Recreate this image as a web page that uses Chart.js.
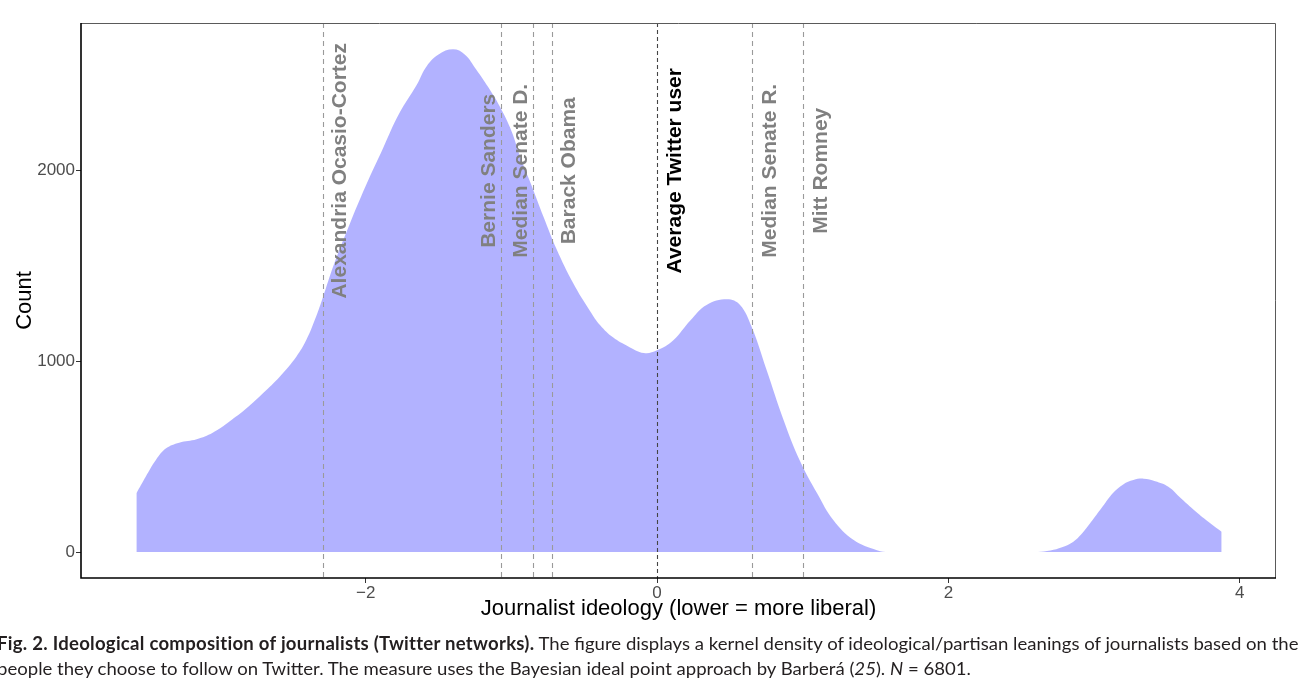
<!DOCTYPE html>
<html><head><meta charset="utf-8">
<script src="https://cdn.jsdelivr.net/npm/chart.js@4.4.1/dist/chart.umd.min.js"></script>
<style>
html,body{margin:0;padding:0;background:#fff;}
#wrap{position:relative;width:1310px;height:685px;overflow:hidden;background:#fff;}
#c{position:absolute;left:0;top:0;}
.cap{position:absolute;left:-3px;white-space:nowrap;font-family:Lato,"Noto Sans",sans-serif;font-size:18px;color:#231f20;transform-origin:0 50%;line-height:22px;}
.cap b{letter-spacing:0.25px;}
</style></head><body>
<div id="wrap">
<canvas id="c" width="1310" height="685"></canvas>
<div class="cap" id="cap1" style="top:632px"><b>Fig. 2. Ideological composition of journalists (Twitter networks).</b> The figure displays a kernel density of ideological/partisan leanings of journalists based on the</div>
<div class="cap" id="cap2" style="top:657px">people they choose to follow on Twitter. The measure uses the Bayesian ideal point approach by Barberá (<i>25</i>). <i>N</i> = 6801.</div>
</div>
<script>
// ---- data ----
const ideology = [-3.574,-3.51,-3.44,-3.37,-3.28,-3.16,-3.05,-2.935,-2.82,-2.705,-2.59,-2.476,-2.407,-2.34,-2.294,-2.22,-2.11,-2.00,-1.88,-1.77,-1.65,-1.58,-1.50,-1.40,-1.32,-1.24,-1.16,-1.08,-1.00,-0.94,-0.86,-0.78,-0.69,-0.575,-0.46,-0.39,-0.30,-0.20,-0.09,0.00,0.11,0.23,0.34,0.48,0.57,0.65,0.75,0.87,0.98,1.10,1.21,1.35,1.51,1.60,1.70,2.00,2.30,2.60,2.70,2.78,2.85,2.92,2.99,3.06,3.13,3.20,3.27,3.34,3.42,3.51,3.60,3.71,3.80,3.876];
const counts = [308,395,483,544,574,592,626,685,753,833,920,1025,1113,1235,1335,1505,1720,1920,2120,2300,2450,2550,2610,2637,2610,2530,2440,2338,2210,2075,1920,1760,1590,1410,1265,1190,1125,1080,1044,1058,1110,1216,1296,1326,1296,1180,960,690,480,307,168,63,10,0,0,0,0,0,8,25,50,100,168,240,310,355,378,385,372,343,280,205,150,107];
const markerNames = ["Alexandria Ocasio-Cortez","Bernie Sanders","Median Senate D.","Barack Obama","Average Twitter user","Median Senate R.","Mitt Romney"];
const markerPositions = [-2.296,-1.072,-0.848,-0.722,0,0.653,1.003];
const labelLevel = 2000;
const xTicks = [-2,0,2,4];
const yTicks = [0,1000,2000];

const FONT = '"Liberation Sans", Arial, Helvetica, sans-serif';
const fmt = v => v < 0 ? '\u2212' + Math.abs(v) : String(v);

// keep the smoothed area from dipping below the zero baseline
const clipZero = {
  id: 'clipZero',
  beforeDatasetsDraw(chart) {
    const {ctx, chartArea: a, scales: {y}} = chart;
    ctx.save();
    ctx.beginPath();
    ctx.rect(a.left, a.top, a.width, y.getPixelForValue(0) - a.top);
    ctx.clip();
  },
  afterDatasetsDraw(chart) {
    chart.ctx.restore();
  }
};

const overlay = {
  id: 'overlay',
  afterDatasetsDraw(chart, args, opts) {
    const {ctx, chartArea: a, scales: {x, y}} = chart;
    ctx.save();
    markerPositions.forEach((v, i) => {
      const px = Math.round(x.getPixelForValue(v)) + 0.5;
      ctx.beginPath();
      ctx.setLineDash(opts.dash[i]);
      ctx.strokeStyle = opts.lineColors[i];
      ctx.lineWidth = 1.1;
      ctx.moveTo(px, a.top);
      ctx.lineTo(px, a.bottom);
      ctx.stroke();
    });
    ctx.setLineDash([]);
    ctx.font = 'bold 21px ' + FONT;
    ctx.textAlign = 'center';
    ctx.textBaseline = 'alphabetic';
    markerNames.forEach((n, i) => {
      const px = x.getPixelForValue(markerPositions[i]) + opts.offsets[i];
      const py = y.getPixelForValue(labelLevel);
      ctx.save();
      ctx.translate(px, py);
      ctx.rotate(-Math.PI / 2);
      ctx.fillStyle = opts.textColors[i];
      ctx.fillText(n, 0, 0);
      ctx.restore();
    });
    // panel frame
    ctx.strokeStyle = '#5a5a5a';
    ctx.lineWidth = 1;
    ctx.beginPath();
    ctx.moveTo(a.left, a.top + 0.5); ctx.lineTo(a.right - 0.5, a.top + 0.5); ctx.lineTo(a.right - 0.5, a.bottom);
    ctx.stroke();
    ctx.strokeStyle = '#000';
    ctx.lineWidth = 1.6;
    ctx.beginPath();
    ctx.moveTo(a.left, a.top); ctx.lineTo(a.left, a.bottom); ctx.lineTo(a.right, a.bottom);
    ctx.stroke();
    ctx.restore();
  }
};

new Chart(document.getElementById('c'), {
  type: 'line',
  data: {
    datasets: [{
      data: ideology.map((v, i) => ({x: v, y: counts[i]})),
      fill: 'origin',
      backgroundColor: 'rgba(0,0,255,0.3)',
      borderWidth: 0,
      borderColor: 'rgba(0,0,0,0)',
      pointRadius: 0,
      tension: 0.4
    }]
  },
  options: {
    responsive: false,
    devicePixelRatio: 1,
    animation: false,
    events: [],
    layout: {padding: {top: 23, right: 34, bottom: 0, left: 0}},
    plugins: {
      legend: {display: false},
      tooltip: {enabled: false},
      overlay: {
        dash: [[5,4],[5,4],[5,4],[5,4],[4,3],[5,4],[5,4]],
        lineColors: ['#9a9a9a','#9a9a9a','#9a9a9a','#9a9a9a','#444444','#9a9a9a','#9a9a9a'],
        textColors: ['#808080','#808080','#808080','#808080','#000000','#808080','#808080'],
        offsets: [23.5,-6,-6,23.5,23.5,23.5,23.5]
      }
    },
    scales: {
      x: {
        type: 'linear',
        min: -3.954, max: 4.249,
        afterBuildTicks: s => { s.ticks = xTicks.map(v => ({value: v})); },
        afterFit: s => { s.height = 107; },
        grid: {display: true, drawOnChartArea: false, drawTicks: true, tickLength: 5, color: '#333'},
        border: {display: false},
        ticks: {padding: 0, color: '#4d4d4d', font: {size: 17, family: FONT}, callback: v => fmt(v), maxRotation: 0, autoSkip: false},
        title: {display: true, text: 'Journalist ideology (lower = more liberal)', color: '#000', font: {size: 22, family: FONT}, padding: {top: 0, bottom: 62.8}}
      },
      y: {
        type: 'linear',
        min: -136, max: 2775,
        afterBuildTicks: s => { s.ticks = yTicks.map(v => ({value: v})); },
        afterFit: s => { s.width = 81; },
        grid: {display: true, drawOnChartArea: false, drawTicks: true, tickLength: 5, color: '#333'},
        border: {display: false},
        ticks: {padding: 1, color: '#4d4d4d', font: {size: 17, family: FONT}, callback: v => String(v), autoSkip: false},
        title: {display: true, text: 'Count', color: '#000', font: {size: 22, family: FONT}, padding: {top: 11.8, bottom: 0}}
      }
    }
  },
  plugins: [clipZero, overlay]
});

// fit caption width to the reference line length
function fitCaption() {
  const c1 = document.getElementById('cap1'), c2 = document.getElementById('cap2');
  c1.style.transform = ''; c2.style.transform = '';
  const w = c1.scrollWidth;
  const s = 1302 / w;
  c1.style.transform = 'scaleX(' + s + ')';
  c2.style.transform = 'scaleX(' + s + ')';
}
fitCaption();
if (document.fonts && document.fonts.ready) document.fonts.ready.then(fitCaption);
</script>
</body></html>
